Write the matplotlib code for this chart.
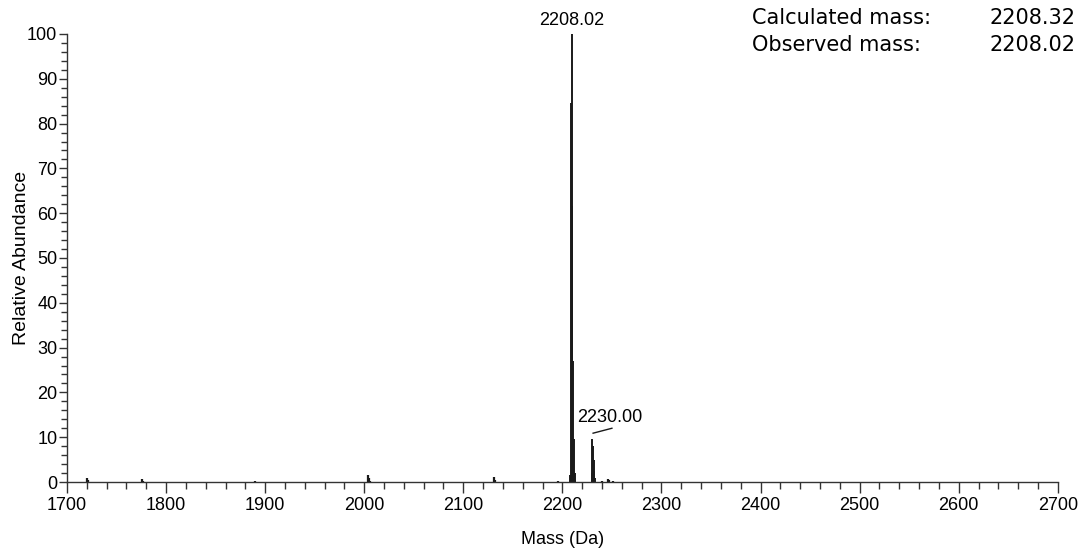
#deconvoluted mass spectrum with peak labels

import numpy as np
import matplotlib.pyplot as plt
from matplotlib.ticker import MultipleLocator

# main peak cluster
main_mass = [2208.0, 2208.8, 2209.5, 2210.2, 2210.9, 2211.6, 2212.3, 2213.0]
main_abund = [1.5, 84.5, 100.0, 61.5, 27.0, 9.5, 2.0, 0.5]

# sodium adduct cluster
adduct_mass = [2229.6, 2230.3, 2231.0, 2231.7, 2232.4, 2233.2]
adduct_abund = [2.0, 9.5, 8.0, 5.0, 2.5, 0.8]

# small background peaks
minor_mass = [1720.0, 1720.7, 1776.0, 1776.8, 1890.0, 2004.0, 2004.7, 2005.5,
              2131.0, 2131.8, 2196.0, 2240.0, 2246.0, 2246.8, 2251.0]
minor_abund = [1.0, 0.5, 0.6, 0.3, 0.2, 1.5, 0.9, 0.3,
               1.1, 0.5, 0.3, 0.3, 0.7, 0.4, 0.2]

calc_mass = "2208.32"
obs_mass = "2208.02"

plt.rcParams['font.family'] = ['Liberation Sans', 'DejaVu Sans']

fig = plt.figure(figsize=(10.86, 5.48), dpi=100)
ax = fig.add_axes([0.0617, 0.1204, 0.9123, 0.8176])

col = '#1a1a1a'
ax.vlines(minor_mass, 0, minor_abund, color=col, lw=1.6)
ax.vlines(main_mass, 0, main_abund, color=col, lw=1.4)
ax.vlines(adduct_mass, 0, adduct_abund, color=col, lw=1.4)

ax.set_xlim(1700, 2700)
ax.set_ylim(0, 100)
ax.spines['top'].set_visible(False)
ax.spines['right'].set_visible(False)
for s in ['left', 'bottom']:
    ax.spines[s].set_color('#333333')
    ax.spines[s].set_linewidth(1.0)

ax.xaxis.set_major_locator(MultipleLocator(100))
ax.xaxis.set_minor_locator(MultipleLocator(20))
ax.yaxis.set_major_locator(MultipleLocator(10))
ax.yaxis.set_minor_locator(MultipleLocator(2))
ax.tick_params(axis='x', which='major', direction='out', length=8, width=1,
               color='#333333', labelsize=13, pad=3)
ax.tick_params(axis='x', which='minor', direction='out', length=5, width=1,
               color='#333333')
ax.tick_params(axis='y', which='major', direction='out', length=6, width=1,
               color='#333333', labelsize=13, pad=1)
ax.tick_params(axis='y', which='minor', direction='out', length=4, width=1,
               color='#333333')

ax.set_xlabel('Mass (Da)', fontsize=13, labelpad=12)
ax.set_ylabel('Relative Abundance', fontsize=14, labelpad=-2)

# peak labels
ax.text(2209.6, 101.2, '2208.02', ha='center', va='bottom', fontsize=13,
        clip_on=False)
ax.plot([2231.0, 2250.0], [10.9, 12.0], color=col, lw=1.0)
ax.text(2248.0, 12.6, '2230.00', ha='center', va='bottom', fontsize=13)

# mass summary in top right
fig.text(0.692, 0.968, 'Calculated mass:', ha='left', va='center',
         fontsize=15, family='DejaVu Sans')
fig.text(0.990, 0.968, calc_mass, ha='right', va='center',
         fontsize=15, family='DejaVu Sans')
fig.text(0.692, 0.917, 'Observed mass:', ha='left', va='center',
         fontsize=15, family='DejaVu Sans')
fig.text(0.990, 0.917, obs_mass, ha='right', va='center',
         fontsize=15, family='DejaVu Sans')

fig.savefig('out.png', dpi=100)
